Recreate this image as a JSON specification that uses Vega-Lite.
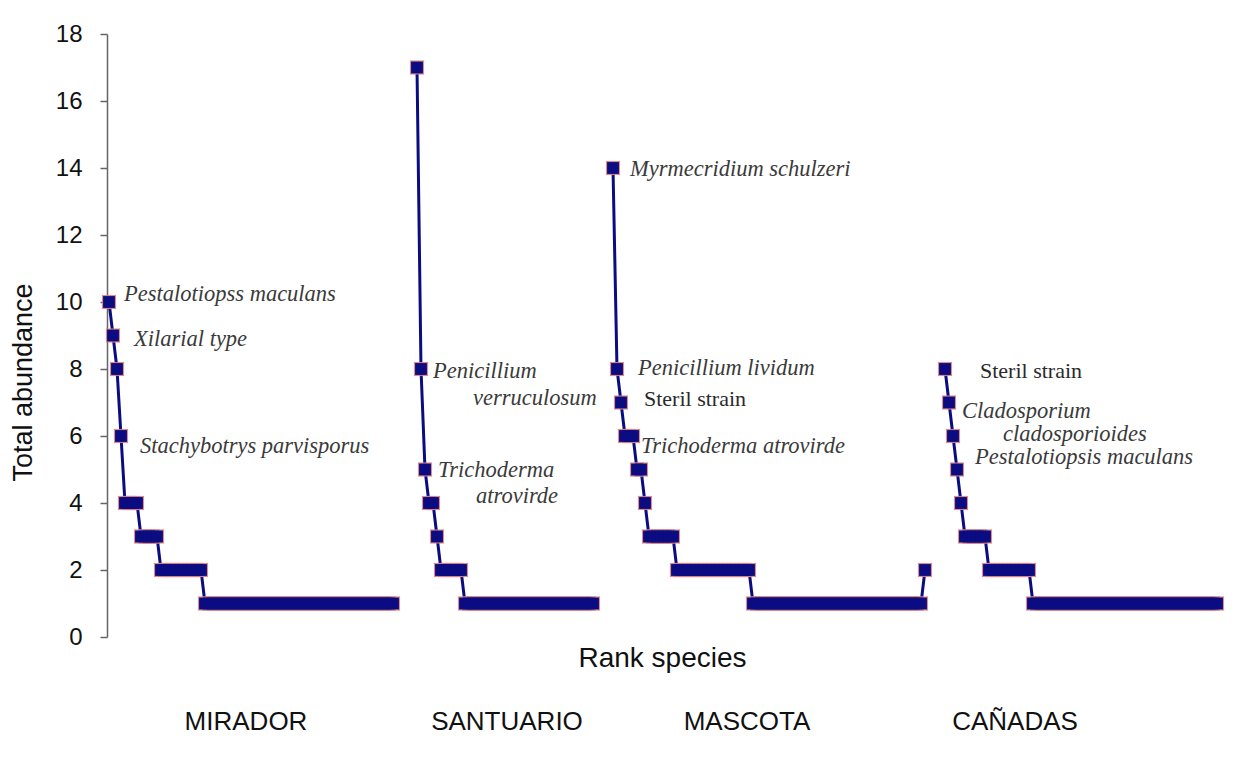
{
  "$schema": "https://vega.github.io/schema/vega-lite/v6.json",
  "width": 1130,
  "height": 603,
  "autosize": {"type": "none"},
  "padding": {"left": 107, "top": 34, "right": 10, "bottom": 122},
  "background": "white",
  "config": {
    "view": {"stroke": null},
    "font": "Liberation Sans"
  },
  "datasets": {
    "ranks": [
      {"site":"MIRADOR","pos":1,"abundance":10},{"site":"MIRADOR","pos":2,"abundance":9},{"site":"MIRADOR","pos":3,"abundance":8},{"site":"MIRADOR","pos":4,"abundance":6},
      {"site":"MIRADOR","pos":5,"abundance":4},{"site":"MIRADOR","pos":6,"abundance":4},{"site":"MIRADOR","pos":7,"abundance":4},{"site":"MIRADOR","pos":8,"abundance":4},
      {"site":"MIRADOR","pos":9,"abundance":3},{"site":"MIRADOR","pos":10,"abundance":3},{"site":"MIRADOR","pos":11,"abundance":3},{"site":"MIRADOR","pos":12,"abundance":3},{"site":"MIRADOR","pos":13,"abundance":3},
      {"site":"MIRADOR","pos":14,"abundance":2},{"site":"MIRADOR","pos":15,"abundance":2},{"site":"MIRADOR","pos":16,"abundance":2},{"site":"MIRADOR","pos":17,"abundance":2},{"site":"MIRADOR","pos":18,"abundance":2},{"site":"MIRADOR","pos":19,"abundance":2},{"site":"MIRADOR","pos":20,"abundance":2},{"site":"MIRADOR","pos":21,"abundance":2},{"site":"MIRADOR","pos":22,"abundance":2},{"site":"MIRADOR","pos":23,"abundance":2},{"site":"MIRADOR","pos":24,"abundance":2},
      {"site":"MIRADOR","pos":25,"abundance":1},{"site":"MIRADOR","pos":26,"abundance":1},{"site":"MIRADOR","pos":27,"abundance":1},{"site":"MIRADOR","pos":28,"abundance":1},{"site":"MIRADOR","pos":29,"abundance":1},{"site":"MIRADOR","pos":30,"abundance":1},{"site":"MIRADOR","pos":31,"abundance":1},{"site":"MIRADOR","pos":32,"abundance":1},{"site":"MIRADOR","pos":33,"abundance":1},{"site":"MIRADOR","pos":34,"abundance":1},
      {"site":"MIRADOR","pos":35,"abundance":1},{"site":"MIRADOR","pos":36,"abundance":1},{"site":"MIRADOR","pos":37,"abundance":1},{"site":"MIRADOR","pos":38,"abundance":1},{"site":"MIRADOR","pos":39,"abundance":1},{"site":"MIRADOR","pos":40,"abundance":1},{"site":"MIRADOR","pos":41,"abundance":1},{"site":"MIRADOR","pos":42,"abundance":1},{"site":"MIRADOR","pos":43,"abundance":1},{"site":"MIRADOR","pos":44,"abundance":1},
      {"site":"MIRADOR","pos":45,"abundance":1},{"site":"MIRADOR","pos":46,"abundance":1},{"site":"MIRADOR","pos":47,"abundance":1},{"site":"MIRADOR","pos":48,"abundance":1},{"site":"MIRADOR","pos":49,"abundance":1},{"site":"MIRADOR","pos":50,"abundance":1},{"site":"MIRADOR","pos":51,"abundance":1},{"site":"MIRADOR","pos":52,"abundance":1},{"site":"MIRADOR","pos":53,"abundance":1},{"site":"MIRADOR","pos":54,"abundance":1},
      {"site":"MIRADOR","pos":55,"abundance":1},{"site":"MIRADOR","pos":56,"abundance":1},{"site":"MIRADOR","pos":57,"abundance":1},{"site":"MIRADOR","pos":58,"abundance":1},{"site":"MIRADOR","pos":59,"abundance":1},{"site":"MIRADOR","pos":60,"abundance":1},{"site":"MIRADOR","pos":61,"abundance":1},{"site":"MIRADOR","pos":62,"abundance":1},{"site":"MIRADOR","pos":63,"abundance":1},{"site":"MIRADOR","pos":64,"abundance":1},
      {"site":"MIRADOR","pos":65,"abundance":1},{"site":"MIRADOR","pos":66,"abundance":1},{"site":"MIRADOR","pos":67,"abundance":1},{"site":"MIRADOR","pos":68,"abundance":1},{"site":"MIRADOR","pos":69,"abundance":1},{"site":"MIRADOR","pos":70,"abundance":1},{"site":"MIRADOR","pos":71,"abundance":1},{"site":"MIRADOR","pos":72,"abundance":1},
      {"site":"SANTUARIO","pos":78,"abundance":17},{"site":"SANTUARIO","pos":79,"abundance":8},{"site":"SANTUARIO","pos":80,"abundance":5},{"site":"SANTUARIO","pos":81,"abundance":4},{"site":"SANTUARIO","pos":82,"abundance":4},{"site":"SANTUARIO","pos":83,"abundance":3},
      {"site":"SANTUARIO","pos":84,"abundance":2},{"site":"SANTUARIO","pos":85,"abundance":2},{"site":"SANTUARIO","pos":86,"abundance":2},{"site":"SANTUARIO","pos":87,"abundance":2},{"site":"SANTUARIO","pos":88,"abundance":2},{"site":"SANTUARIO","pos":89,"abundance":2},
      {"site":"SANTUARIO","pos":90,"abundance":1},{"site":"SANTUARIO","pos":91,"abundance":1},{"site":"SANTUARIO","pos":92,"abundance":1},{"site":"SANTUARIO","pos":93,"abundance":1},{"site":"SANTUARIO","pos":94,"abundance":1},{"site":"SANTUARIO","pos":95,"abundance":1},{"site":"SANTUARIO","pos":96,"abundance":1},{"site":"SANTUARIO","pos":97,"abundance":1},{"site":"SANTUARIO","pos":98,"abundance":1},{"site":"SANTUARIO","pos":99,"abundance":1},
      {"site":"SANTUARIO","pos":100,"abundance":1},{"site":"SANTUARIO","pos":101,"abundance":1},{"site":"SANTUARIO","pos":102,"abundance":1},{"site":"SANTUARIO","pos":103,"abundance":1},{"site":"SANTUARIO","pos":104,"abundance":1},{"site":"SANTUARIO","pos":105,"abundance":1},{"site":"SANTUARIO","pos":106,"abundance":1},{"site":"SANTUARIO","pos":107,"abundance":1},{"site":"SANTUARIO","pos":108,"abundance":1},{"site":"SANTUARIO","pos":109,"abundance":1},
      {"site":"SANTUARIO","pos":110,"abundance":1},{"site":"SANTUARIO","pos":111,"abundance":1},{"site":"SANTUARIO","pos":112,"abundance":1},{"site":"SANTUARIO","pos":113,"abundance":1},{"site":"SANTUARIO","pos":114,"abundance":1},{"site":"SANTUARIO","pos":115,"abundance":1},{"site":"SANTUARIO","pos":116,"abundance":1},{"site":"SANTUARIO","pos":117,"abundance":1},{"site":"SANTUARIO","pos":118,"abundance":1},{"site":"SANTUARIO","pos":119,"abundance":1},
      {"site":"SANTUARIO","pos":120,"abundance":1},{"site":"SANTUARIO","pos":121,"abundance":1},{"site":"SANTUARIO","pos":122,"abundance":1},
      {"site":"MASCOTA","pos":127,"abundance":14},{"site":"MASCOTA","pos":128,"abundance":8},{"site":"MASCOTA","pos":129,"abundance":7},{"site":"MASCOTA","pos":130,"abundance":6},{"site":"MASCOTA","pos":131,"abundance":6},{"site":"MASCOTA","pos":132,"abundance":6},
      {"site":"MASCOTA","pos":133,"abundance":5},{"site":"MASCOTA","pos":134,"abundance":5},{"site":"MASCOTA","pos":135,"abundance":4},
      {"site":"MASCOTA","pos":136,"abundance":3},{"site":"MASCOTA","pos":137,"abundance":3},{"site":"MASCOTA","pos":138,"abundance":3},{"site":"MASCOTA","pos":139,"abundance":3},{"site":"MASCOTA","pos":140,"abundance":3},{"site":"MASCOTA","pos":141,"abundance":3},{"site":"MASCOTA","pos":142,"abundance":3},
      {"site":"MASCOTA","pos":143,"abundance":2},{"site":"MASCOTA","pos":144,"abundance":2},{"site":"MASCOTA","pos":145,"abundance":2},{"site":"MASCOTA","pos":146,"abundance":2},{"site":"MASCOTA","pos":147,"abundance":2},{"site":"MASCOTA","pos":148,"abundance":2},{"site":"MASCOTA","pos":149,"abundance":2},{"site":"MASCOTA","pos":150,"abundance":2},{"site":"MASCOTA","pos":151,"abundance":2},{"site":"MASCOTA","pos":152,"abundance":2},
      {"site":"MASCOTA","pos":153,"abundance":2},{"site":"MASCOTA","pos":154,"abundance":2},{"site":"MASCOTA","pos":155,"abundance":2},{"site":"MASCOTA","pos":156,"abundance":2},{"site":"MASCOTA","pos":157,"abundance":2},{"site":"MASCOTA","pos":158,"abundance":2},{"site":"MASCOTA","pos":159,"abundance":2},{"site":"MASCOTA","pos":160,"abundance":2},{"site":"MASCOTA","pos":161,"abundance":2},
      {"site":"MASCOTA","pos":162,"abundance":1},{"site":"MASCOTA","pos":163,"abundance":1},{"site":"MASCOTA","pos":164,"abundance":1},{"site":"MASCOTA","pos":165,"abundance":1},{"site":"MASCOTA","pos":166,"abundance":1},{"site":"MASCOTA","pos":167,"abundance":1},{"site":"MASCOTA","pos":168,"abundance":1},{"site":"MASCOTA","pos":169,"abundance":1},{"site":"MASCOTA","pos":170,"abundance":1},{"site":"MASCOTA","pos":171,"abundance":1},
      {"site":"MASCOTA","pos":172,"abundance":1},{"site":"MASCOTA","pos":173,"abundance":1},{"site":"MASCOTA","pos":174,"abundance":1},{"site":"MASCOTA","pos":175,"abundance":1},{"site":"MASCOTA","pos":176,"abundance":1},{"site":"MASCOTA","pos":177,"abundance":1},{"site":"MASCOTA","pos":178,"abundance":1},{"site":"MASCOTA","pos":179,"abundance":1},{"site":"MASCOTA","pos":180,"abundance":1},{"site":"MASCOTA","pos":181,"abundance":1},
      {"site":"MASCOTA","pos":182,"abundance":1},{"site":"MASCOTA","pos":183,"abundance":1},{"site":"MASCOTA","pos":184,"abundance":1},{"site":"MASCOTA","pos":185,"abundance":1},{"site":"MASCOTA","pos":186,"abundance":1},{"site":"MASCOTA","pos":187,"abundance":1},{"site":"MASCOTA","pos":188,"abundance":1},{"site":"MASCOTA","pos":189,"abundance":1},{"site":"MASCOTA","pos":190,"abundance":1},{"site":"MASCOTA","pos":191,"abundance":1},
      {"site":"MASCOTA","pos":192,"abundance":1},{"site":"MASCOTA","pos":193,"abundance":1},{"site":"MASCOTA","pos":194,"abundance":1},{"site":"MASCOTA","pos":195,"abundance":1},{"site":"MASCOTA","pos":196,"abundance":1},{"site":"MASCOTA","pos":197,"abundance":1},{"site":"MASCOTA","pos":198,"abundance":1},{"site":"MASCOTA","pos":199,"abundance":1},{"site":"MASCOTA","pos":200,"abundance":1},{"site":"MASCOTA","pos":201,"abundance":1},
      {"site":"MASCOTA","pos":202,"abundance":1},{"site":"MASCOTA","pos":203,"abundance":1},{"site":"MASCOTA","pos":204,"abundance":1},{"site":"MASCOTA","pos":205,"abundance":2},
      {"site":"CAÑADAS","pos":210,"abundance":8},{"site":"CAÑADAS","pos":211,"abundance":7},{"site":"CAÑADAS","pos":212,"abundance":6},{"site":"CAÑADAS","pos":213,"abundance":5},{"site":"CAÑADAS","pos":214,"abundance":4},
      {"site":"CAÑADAS","pos":215,"abundance":3},{"site":"CAÑADAS","pos":216,"abundance":3},{"site":"CAÑADAS","pos":217,"abundance":3},{"site":"CAÑADAS","pos":218,"abundance":3},{"site":"CAÑADAS","pos":219,"abundance":3},{"site":"CAÑADAS","pos":220,"abundance":3},
      {"site":"CAÑADAS","pos":221,"abundance":2},{"site":"CAÑADAS","pos":222,"abundance":2},{"site":"CAÑADAS","pos":223,"abundance":2},{"site":"CAÑADAS","pos":224,"abundance":2},{"site":"CAÑADAS","pos":225,"abundance":2},{"site":"CAÑADAS","pos":226,"abundance":2},{"site":"CAÑADAS","pos":227,"abundance":2},{"site":"CAÑADAS","pos":228,"abundance":2},{"site":"CAÑADAS","pos":229,"abundance":2},{"site":"CAÑADAS","pos":230,"abundance":2},{"site":"CAÑADAS","pos":231,"abundance":2},
      {"site":"CAÑADAS","pos":232,"abundance":1},{"site":"CAÑADAS","pos":233,"abundance":1},{"site":"CAÑADAS","pos":234,"abundance":1},{"site":"CAÑADAS","pos":235,"abundance":1},{"site":"CAÑADAS","pos":236,"abundance":1},{"site":"CAÑADAS","pos":237,"abundance":1},{"site":"CAÑADAS","pos":238,"abundance":1},{"site":"CAÑADAS","pos":239,"abundance":1},{"site":"CAÑADAS","pos":240,"abundance":1},{"site":"CAÑADAS","pos":241,"abundance":1},
      {"site":"CAÑADAS","pos":242,"abundance":1},{"site":"CAÑADAS","pos":243,"abundance":1},{"site":"CAÑADAS","pos":244,"abundance":1},{"site":"CAÑADAS","pos":245,"abundance":1},{"site":"CAÑADAS","pos":246,"abundance":1},{"site":"CAÑADAS","pos":247,"abundance":1},{"site":"CAÑADAS","pos":248,"abundance":1},{"site":"CAÑADAS","pos":249,"abundance":1},{"site":"CAÑADAS","pos":250,"abundance":1},{"site":"CAÑADAS","pos":251,"abundance":1},
      {"site":"CAÑADAS","pos":252,"abundance":1},{"site":"CAÑADAS","pos":253,"abundance":1},{"site":"CAÑADAS","pos":254,"abundance":1},{"site":"CAÑADAS","pos":255,"abundance":1},{"site":"CAÑADAS","pos":256,"abundance":1},{"site":"CAÑADAS","pos":257,"abundance":1},{"site":"CAÑADAS","pos":258,"abundance":1},{"site":"CAÑADAS","pos":259,"abundance":1},{"site":"CAÑADAS","pos":260,"abundance":1},{"site":"CAÑADAS","pos":261,"abundance":1},
      {"site":"CAÑADAS","pos":262,"abundance":1},{"site":"CAÑADAS","pos":263,"abundance":1},{"site":"CAÑADAS","pos":264,"abundance":1},{"site":"CAÑADAS","pos":265,"abundance":1},{"site":"CAÑADAS","pos":266,"abundance":1},{"site":"CAÑADAS","pos":267,"abundance":1},{"site":"CAÑADAS","pos":268,"abundance":1},{"site":"CAÑADAS","pos":269,"abundance":1},{"site":"CAÑADAS","pos":270,"abundance":1},{"site":"CAÑADAS","pos":271,"abundance":1},
      {"site":"CAÑADAS","pos":272,"abundance":1},{"site":"CAÑADAS","pos":273,"abundance":1},{"site":"CAÑADAS","pos":274,"abundance":1},{"site":"CAÑADAS","pos":275,"abundance":1},{"site":"CAÑADAS","pos":276,"abundance":1},{"site":"CAÑADAS","pos":277,"abundance":1},{"site":"CAÑADAS","pos":278,"abundance":1}
    ],
    "notes": [
      {"label":"Pestalotiopss maculans","pos":4.75,"abundance":10.24},
      {"label":"Xilarial type","pos":7.25,"abundance":8.9},
      {"label":"Stachybotrys parvisporus","pos":8.75,"abundance":5.7},
      {"label":"Penicillium","pos":82,"abundance":7.94},
      {"label":"verruculosum","pos":92,"abundance":7.13},
      {"label":"Trichoderma","pos":83.25,"abundance":4.99},
      {"label":"atrovirde","pos":92.75,"abundance":4.21},
      {"label":"Myrmecridium schulzeri","pos":131.25,"abundance":13.97},
      {"label":"Penicillium lividum","pos":133.25,"abundance":8.03},
      {"label":"Steril strain","pos":134.75,"abundance":7.1},
      {"label":"Trichoderma atrovirde","pos":134,"abundance":5.7},
      {"label":"Steril strain","pos":218.75,"abundance":7.94},
      {"label":"Cladosporium","pos":214.25,"abundance":6.75},
      {"label":"cladosporioides","pos":224.5,"abundance":6.06},
      {"label":"Pestalotiopsis maculans","pos":217.5,"abundance":5.38}
    ],
    "sites": [
      {"site":"MIRADOR","pos":35.25},
      {"site":"SANTUARIO","pos":100.5},
      {"site":"MASCOTA","pos":160.5},
      {"site":"CAÑADAS","pos":227.5}
    ]
  },
  "layer": [
    {
      "data": {"name": "ranks"},
      "mark": {"type": "line", "color": "#0c0c82", "strokeWidth": 3},
      "encoding": {
        "x": {
          "field": "pos", "type": "quantitative",
          "scale": {"domain": [0.5, 283], "nice": false, "zero": false},
          "axis": {"domain": false, "ticks": false, "labels": false, "grid": false,
                   "title": "Rank species", "titleFont": "Liberation Sans", "titleFontSize": 28,
                   "titleFontWeight": "normal", "titleColor": "#111", "titlePadding": 7, "titleX": 555}
        },
        "y": {
          "field": "abundance", "type": "quantitative",
          "scale": {"domain": [0, 18], "nice": false},
          "axis": {"values": [0,2,4,6,8,10,12,14,16,18], "grid": false,
                   "domainColor": "#666", "domainWidth": 1.5, "tickColor": "#666", "tickWidth": 1.5, "tickSize": 7,
                   "labelFont": "Liberation Sans", "labelFontSize": 24, "labelColor": "#111", "labelPadding": 18,
                   "title": "Total abundance", "titleFont": "Liberation Sans", "titleFontSize": 27,
                   "titleFontWeight": "normal", "titleColor": "#111", "titlePadding": 18, "titleY": 348}
        },
        "detail": {"field": "site"}
      }
    },
    {
      "data": {"name": "ranks"},
      "mark": {"type": "point", "shape": "square", "filled": true, "size": 200,
               "fill": "#d78080", "opacity": 0.9},
      "encoding": {
        "x": {"field": "pos", "type": "quantitative"},
        "y": {"field": "abundance", "type": "quantitative"}
      }
    },
    {
      "data": {"name": "ranks"},
      "mark": {"type": "point", "shape": "square", "filled": true, "size": 140,
               "fill": "#0c0c82", "opacity": 1},
      "encoding": {
        "x": {"field": "pos", "type": "quantitative"},
        "y": {"field": "abundance", "type": "quantitative"}
      }
    },
    {
      "data": {"name": "notes"},
      "transform": [{"filter": "datum.label != 'Steril strain'"}],
      "mark": {"type": "text", "align": "left", "baseline": "middle", "font": "Liberation Serif",
               "fontStyle": "italic", "fontSize": 22.5, "color": "#3a3a3a"},
      "encoding": {
        "x": {"field": "pos", "type": "quantitative"},
        "y": {"field": "abundance", "type": "quantitative"},
        "text": {"field": "label"}
      }
    },
    {
      "data": {"name": "notes"},
      "transform": [{"filter": "datum.label == 'Steril strain'"}],
      "mark": {"type": "text", "align": "left", "baseline": "middle", "font": "Liberation Serif",
               "fontSize": 22, "color": "#2a2a2a"},
      "encoding": {
        "x": {"field": "pos", "type": "quantitative"},
        "y": {"field": "abundance", "type": "quantitative"},
        "text": {"field": "label"}
      }
    },
    {
      "data": {"name": "sites"},
      "mark": {"type": "text", "align": "center", "baseline": "middle", "font": "Liberation Sans",
               "fontSize": 26, "color": "#111"},
      "encoding": {
        "x": {"field": "pos", "type": "quantitative"},
        "y": {"datum": -2.55},
        "text": {"field": "site"}
      }
    }
  ]
}
